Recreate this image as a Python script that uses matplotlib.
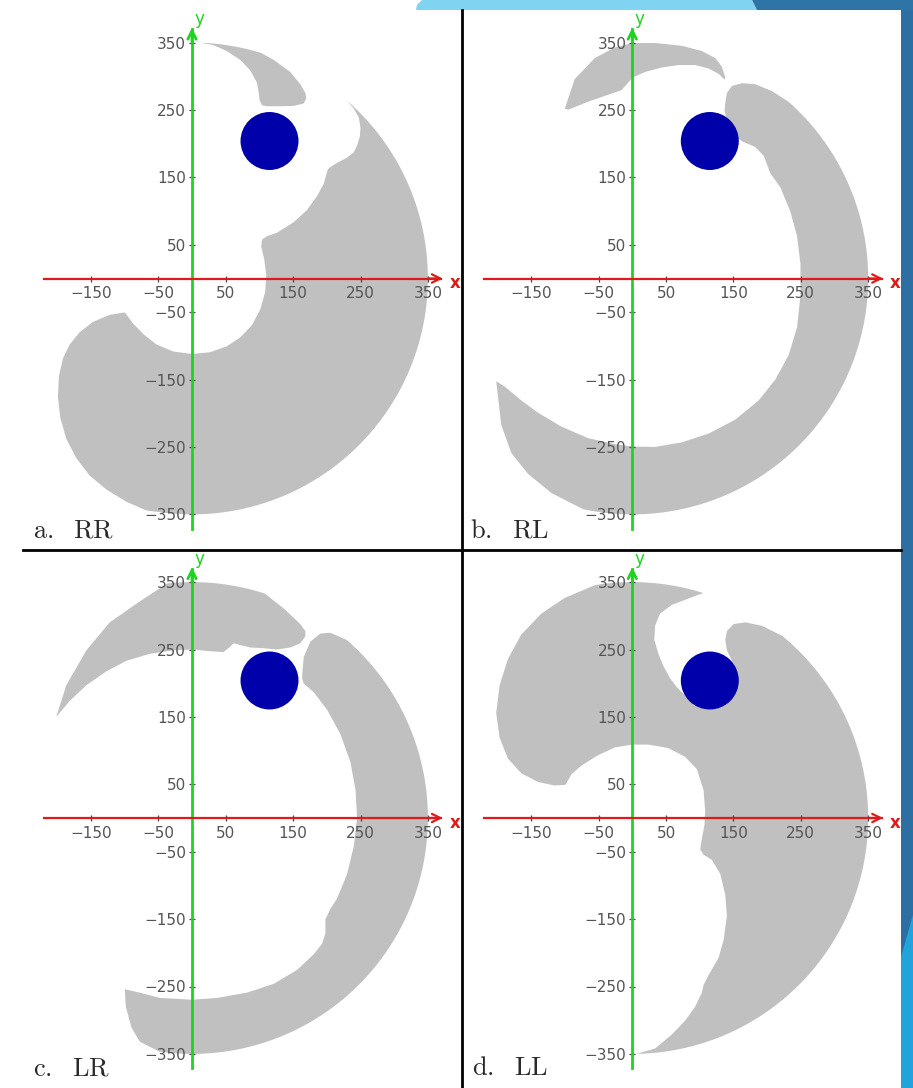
import numpy as np
import matplotlib
matplotlib.use('Agg')
import matplotlib.pyplot as plt
from matplotlib.patches import Polygon, Circle
from matplotlib.lines import Line2D

plt.rcParams['mathtext.fontset'] = 'cm'

W, H = 913, 1088
PX = 0.674          # pixels per workspace unit
REACH = 350         # l1 + l2

GRAY = '#c0c0c0'
BLUE = '#0000aa'
RED = '#de1a1a'
GREEN = '#1fd41f'

obstacle_center = (115, 204)
obstacle_radius = 43

x_ticks = [-150, -50, 50, 150, 250, 350]
y_ticks = [350, 250, 150, 50, -50, -150, -250, -350]
x_axis_span = (-220, 370)
y_axis_span = (-371, 370)

titles = [r'$\mathrm{a.\ \ RR}$', r'$\mathrm{b.\ \ RL}$',
          r'$\mathrm{c.\ \ LR}$', r'$\mathrm{d.\ \ LL}$']

# reachable regions; ('arc', a0, a1) runs along the reach circle
rr_top = [('arc', 90, 73), (121, 324.5), (145.8, 306.4), (160.7, 288.2), (168.2, 275.3),
          (169.6, 267.5), (165.7, 259.7), (150.8, 256.1), (131, 255.6), (111.1, 255.6),
          (103.7, 257.1), (100.2, 264.9), (98.7, 277.9), (96.2, 290.8), (86.3, 309),
          (71.4, 324.5), (51.6, 337.5), (31.7, 346.3), (11.9, 349.9)]
rr_main = [('arc', 48.9, -96), (-67.5, -344.2), (-97.2, -331.3), (-127, -313.1),
           (-151.8, -292.4), (-171.6, -266.5), (-186.5, -237.9), (-195.4, -206.8),
           (-198.9, -175.7), (-197.4, -144.6), (-191.5, -118.7), (-181.5, -98),
           (-166.7, -79.8), (-146.8, -64.3), (-122, -53.9), (-99.7, -50.3), (-87.3, -66.9),
           (-72.4, -82.4), (-52.6, -98), (-27.8, -108.3), (-0.5, -112), (26.8, -109.4),
           (51.6, -100.6), (71.4, -87.6), (88.8, -69.5), (101.2, -46.1), (108.6, -20.2),
           (110.1, 5.7), (107.1, 29), (102.7, 47.2), (103.7, 57.5), (111.1, 62.7),
           (126, 67.9), (150.8, 83.5), (170.6, 101.6), (185.5, 122.3), (195.4, 140.5),
           (200.4, 158.6), (202.9, 163.8), (215.3, 171.6), (230.2, 179.4), (240, 187.1),
           (245, 197.5), (249, 210.5), (250, 223.4), (247.5, 239), (240, 252)]

rl_top = [(-100.2, 252), (-85.3, 296), (-55.6, 327.1), (-25.8, 342.7), (0, 349.4),
          (33.7, 349.4), (73.4, 345.3), (103.2, 337.5), (123, 327.1), (132.9, 314.2),
          (137.9, 298.6), (136.9, 295), (128, 303.8), (113.1, 311.6), (93.3, 316.7),
          (68.5, 316.7), (43.7, 313.1), (18.8, 306.4), (1.5, 298.6), (-6, 290.8),
          (-15.9, 279.4), (-35.7, 272.7), (-65.5, 262.3), (-95.2, 250.4)]
rl_main = [(137.9, 259.7), (140.4, 275.3), (147.8, 285.6), (162.7, 289.8), (182.5, 288.2),
           (207.3, 277.9), ('arc', 48.5, -102), (-120, -318.3), (-154.8, -289.8),
           (-179.6, -258.7), (-194.4, -217.2), (-200.4, -165.4), (-201.9, -152.4),
           (-189.5, -160.2), (-164.7, -180.9), (-139.9, -199.1), (-105.2, -219.8),
           (-65.5, -236.9), (-25.8, -245.7), (0, -249.4), (33.7, -249.9), (73.4, -243.1),
           (113.1, -230.2), (152.8, -209.4), (187.5, -180.9), (212.3, -149.8),
           (232.1, -113.5), (244.5, -72.1), (249.5, -25.4), (249.5, 21.3), (244.5, 62.7),
           (234.6, 99), (219.7, 135.3), (204.9, 156), (199.9, 169), (195, 182),
           (182.5, 195), (162.7, 203.7), (147.8, 215.7), (140.4, 231.2), (136.9, 249.4)]

lr_top = [(-201.4, 150.3), (-186.5, 197), (-156.7, 248.8), (-122, 290.3), (-77.4, 321.4),
          ('arc', 96, 72), (135.9, 311), (160.7, 287.7), (168.2, 277.3), (168.2, 269.6),
          (160.7, 259.2), (145.8, 253), (126, 249.9), (106.2, 251.9), (86.3, 253),
          (61.5, 259.2), (56.5, 254), (46.6, 246.2), (21.8, 247.8), (2, 249.9),
          (-27.8, 248.8), (-62.5, 243.6), (-97.2, 233.3), (-127, 217.7), (-156.7, 197),
          (-181.5, 173.7), (-198.9, 152.9)]
lr_main = [(163.2, 207.4), (165.7, 238.5), (175.6, 261.8), (190.5, 273.7), (205.4, 274.8),
           ('arc', 49, -98), (-77.4, -331.8), (-89.8, -311), (-98.2, -279.9), (-99.7, -254),
           (-77.4, -259.2), (-47.6, -267), (-0.5, -269.6), (36.7, -267), (81.3, -259.2),
           (121, -246.2), (155.8, -225.5), (180.6, -202.2), (193, -186.6), (197.9, -171.1),
           (197.9, -150.3), (205.4, -134.8), (215.3, -119.2), (230.2, -82.9),
           (240.1, -41.5), (245, 0), (242.6, 41.5), (235.1, 82.9), (220.2, 124.4),
           (200.4, 160.7), (180.6, 186.6), (165.7, 199.6)]

ll_main = [('arc', 99, 72.5), (83.3, 325.6), (58.5, 316.2), (41.2, 303.3), (33.7, 285.1),
           (32.7, 264.4), (38.7, 243.7), (46.1, 225.5), (56, 207.4), (65.9, 194.4),
           (78.4, 181.4), (115.6, 207.4), (156.7, 215.1), (147.8, 233.3), (140.4, 248.8),
           (137.9, 264.4), (140.4, 277.3), (150.3, 287.7), (167.7, 290.3), (192.5, 285.1),
           ('arc', 50.5, -89), (33.7, -342.1), (58.5, -321.4), (78.4, -300.7),
           (93.3, -279.9), (103.2, -259.2), (105.7, -247.8), (113.1, -233.3),
           (128, -207.4), (135.4, -181.4), (140.4, -145.2), (137.9, -114), (130.5, -82.9),
           (118.1, -62.2), (105.7, -54.4), (100.7, -46.7), (103.2, -30.6), (107.1, -10.4),
           (108.1, 10.4), (105.7, 41.5), (95.7, 72.6), (78.4, 90.7), (53.6, 103.7),
           (23.8, 108.9), (0, 108.9), (-25.8, 104.7), (-50.6, 93.3), (-75.4, 77.8),
           (-90.3, 64.8), (-99.2, 49.2), (-115.1, 48.2), (-139.9, 53.4), (-164.7, 66.4),
           (-184.5, 88.1), (-196.9, 119.2), (-201.9, 155.5), (-196.9, 197),
           (-184.5, 235.9), (-164.7, 272.2), (-134.9, 303.3), (-100.2, 326.6)]

regions = [[rr_top, rr_main], [rl_top, rl_main], [lr_top, lr_main], [ll_main]]

# panel frames in pixels: (left, top, right, bottom) and where the origin sits
boxes = [(0, 10, 462, 550), (462, 10, 901, 550), (0, 550, 462, 1088), (462, 550, 901, 1088)]
origins = [(192, 278.5), (632.3, 278.5), (192, 818), (632.3, 818)]
title_xy = [(33, 537), (470, 537), (33, 1075), (472, 1075)]


def outline(parts):
    pts = []
    for p in parts:
        if p[0] == 'arc':
            t = np.radians(np.linspace(p[1], p[2], 80))
            pts.extend(zip(REACH * np.cos(t), REACH * np.sin(t)))
        else:
            pts.append(p)
    return pts


def fx(x):
    return x / W


def fy(y):
    return 1 - y / H


fig = plt.figure(figsize=(W / 100, H / 100), dpi=100)
fig.patch.set_facecolor('white')

# slide decoration around the figure
fig.add_artist(Polygon([(fx(422), fy(0)), (fx(752), fy(0)), (fx(757), fy(10)), (fx(416), fy(10)),
                        (fx(417), fy(5))],
                       closed=True, fc='#80d3f1', ec='none', transform=fig.transFigure))
fig.add_artist(Polygon([(fx(752), fy(0)), (fx(913), fy(0)), (fx(913), fy(10)), (fx(757), fy(10))],
                       closed=True, fc='#2f74a6', ec='none', transform=fig.transFigure))
fig.add_artist(Polygon([(fx(901), fy(10)), (fx(913), fy(10)), (fx(913), fy(1088)), (fx(901), fy(1088))],
                       closed=True, fc='#2d6fa3', ec='none', transform=fig.transFigure))
fig.add_artist(Polygon([(fx(901), fy(957)), (fx(913), fy(915)), (fx(913), fy(1088)), (fx(901), fy(1088))],
                       closed=True, fc='#21a3dc', ec='none', transform=fig.transFigure))

for box, (ox, oy), shapes, title, (tx, ty) in zip(boxes, origins, regions, titles, title_xy):
    x0, y0, x1, y1 = box
    ax = fig.add_axes([fx(x0), fy(y1), (x1 - x0) / W, (y1 - y0) / H])
    ax.set_xlim((x0 - ox) / PX, (x1 - ox) / PX)
    ax.set_ylim((oy - y1) / PX, (oy - y0) / PX)
    ax.patch.set_visible(False)

    for shape in shapes:
        ax.add_patch(Polygon(outline(shape), closed=True, fc=GRAY, ec='none', zorder=1))
    ax.add_patch(Circle(obstacle_center, obstacle_radius, fc=BLUE, ec='none', zorder=2))

    for side in ['top', 'right']:
        ax.spines[side].set_visible(False)
    ax.spines['bottom'].set_position(('data', 0))
    ax.spines['bottom'].set_bounds(*x_axis_span)
    ax.spines['bottom'].set_color(RED)
    ax.spines['bottom'].set_linewidth(1.6)
    ax.spines['left'].set_position(('data', 0))
    ax.spines['left'].set_bounds(*y_axis_span)
    ax.spines['left'].set_color(GREEN)
    ax.spines['left'].set_linewidth(2.0)

    ax.set_xticks(x_ticks)
    ax.set_yticks(y_ticks)
    ax.tick_params(axis='both', direction='inout', length=4.5, width=0.9,
                   color='#444444', labelcolor='#555555', labelsize=11)
    ax.tick_params(axis='x', pad=3.5)
    ax.tick_params(axis='y', pad=2)

    ax.annotate('', xy=(x_axis_span[1] + 2, 0), xytext=(x_axis_span[1] - 20, 0),
                arrowprops=dict(arrowstyle='->', color=RED, lw=1.6, mutation_scale=15,
                                shrinkA=0, shrinkB=0), annotation_clip=False)
    ax.annotate('', xy=(0, y_axis_span[1] + 2), xytext=(0, y_axis_span[1] - 20),
                arrowprops=dict(arrowstyle='->', color=GREEN, lw=2.0, mutation_scale=15,
                                shrinkA=0, shrinkB=0), annotation_clip=False)
    ax.text(390, -7, 'x', color=RED, fontsize=12, fontweight='bold', ha='center', va='center')
    ax.text(11, 385, 'y', color=GREEN, fontsize=12, ha='center', va='center')

    fig.text(fx(tx), fy(ty), title, fontsize=19, color='#2a2a2a', va='baseline', ha='left')

# frame lines between the panels
fig.add_artist(Line2D([fx(462), fx(462)], [fy(10), fy(1088)], color='black', lw=2,
                      transform=fig.transFigure))
fig.add_artist(Line2D([fx(23), fx(901)], [fy(550), fy(550)], color='black', lw=2,
                      transform=fig.transFigure))

fig.savefig('out.png', dpi=100)
